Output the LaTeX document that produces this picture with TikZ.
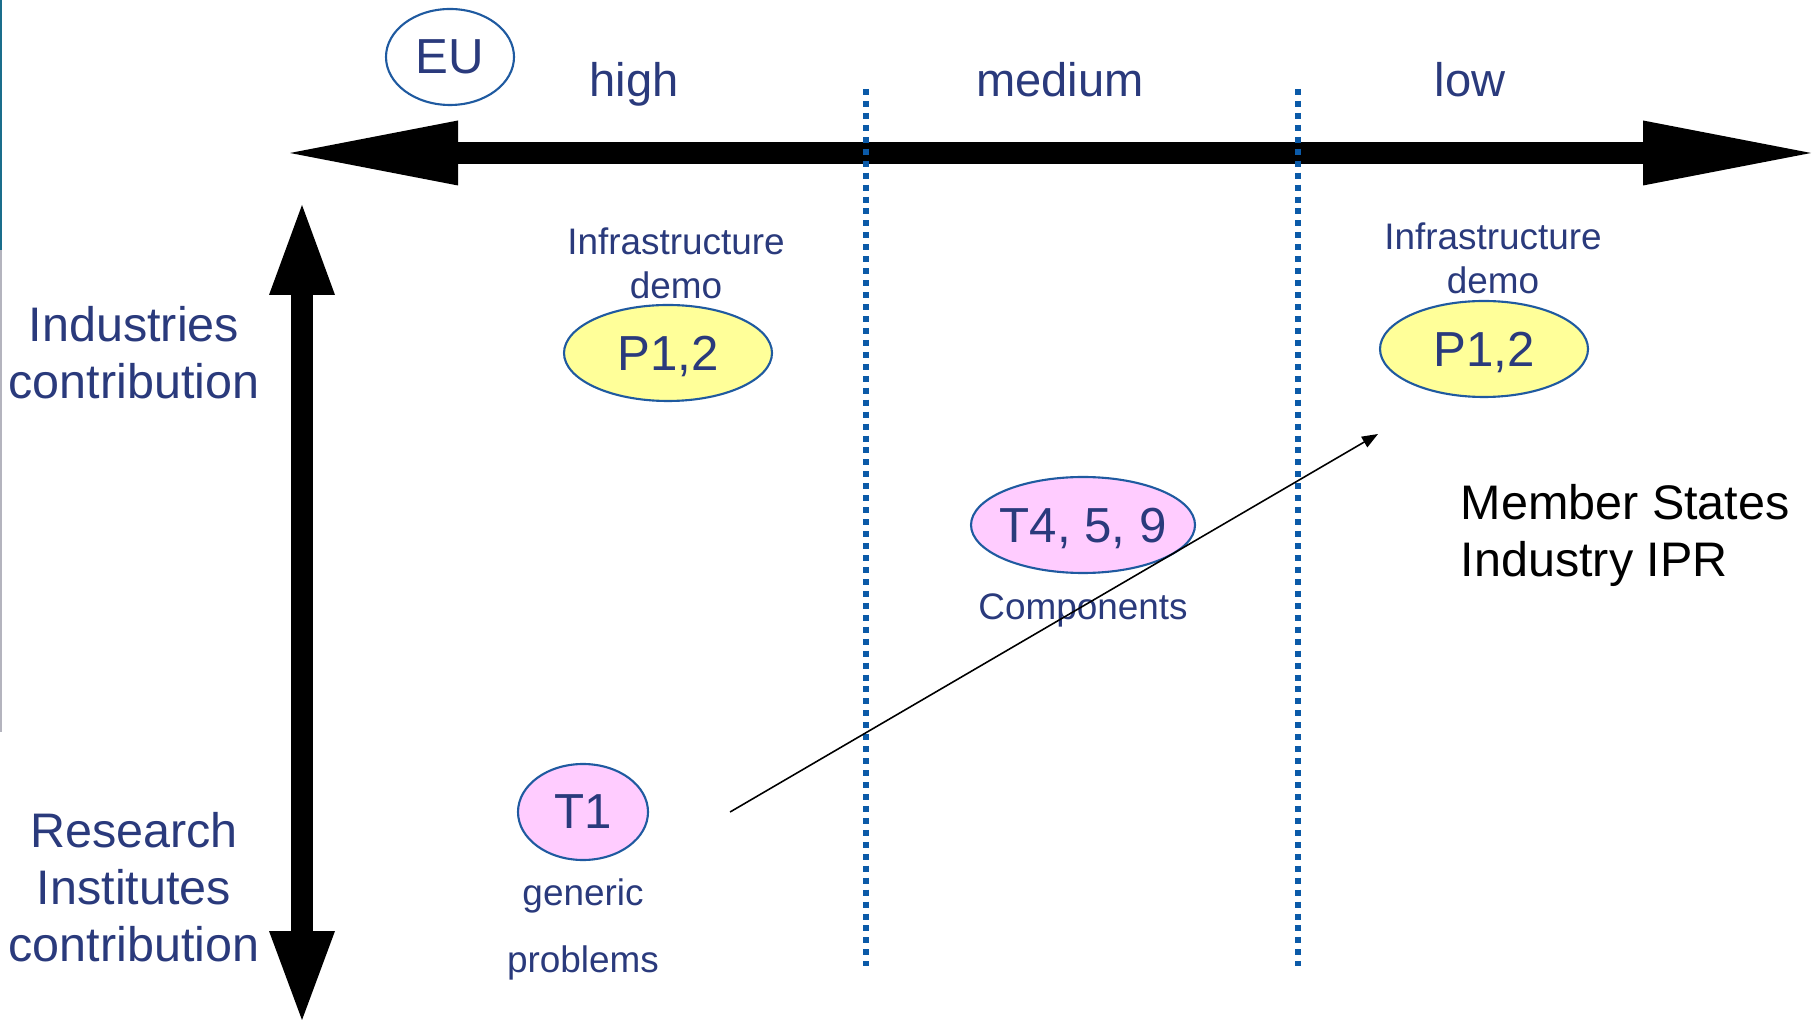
\documentclass[tikz,border=0pt]{standalone}
\usepackage{fontspec}
\setmainfont{Liberation Sans}
\usetikzlibrary{positioning, arrows.meta, shapes.geometric}

\definecolor{navy}{HTML}{2A3A7C}
\definecolor{rim}{HTML}{1F5AA0}
\definecolor{dotblue}{HTML}{0B5AA8}
\definecolor{paleyellow}{HTML}{FFFF99}
\definecolor{palepink}{HTML}{FFCCFF}
\definecolor{edgeteal}{HTML}{1A6E8C}
\definecolor{edgegray}{HTML}{B4B4BE}

\begin{document}
\begin{tikzpicture}[
    level/.style={font=\fontsize{13.4}{16}\selectfont, text=navy, anchor=base, inner sep=0pt},
    side/.style={font=\fontsize{13.8}{16.2}\selectfont, text=navy, align=center, inner sep=0pt},
    note/.style={font=\fontsize{10.5}{12.7}\selectfont, text=navy, align=center, inner sep=0pt},
    blob/.style={draw=rim, line width=0.6pt, ellipse, inner sep=0pt, text depth=0pt, minimum height=0.96cm, font=\fontsize{14}{17}\selectfont, text=navy},
    harrow/.style={line width=6.3pt, {Triangle[length=1.68cm, width=0.65cm, line width=0pt]}-{Triangle[length=1.68cm, width=0.65cm, line width=0pt]}},
    varrow/.style={line width=6.3pt, {Triangle[length=0.90cm, width=0.66cm, line width=0pt]}-{Triangle[length=0.89cm, width=0.66cm, line width=0pt]}},
    divider/.style={draw=dotblue, line width=1.7pt, dash pattern=on 1.7pt off 1.7pt},
    link/.style={-{Triangle[length=1.6mm, width=1.2mm]}, line width=0.45pt}
]
    \useasboundingbox (0,0) rectangle (18.14,-10.20);

    % slide edge
    \draw[edgeteal, line width=0.6pt] (0.01,0) -- (0.01,-2.50);
    \draw[edgegray, line width=0.6pt] (0.01,-2.50) -- (0.01,-7.32);

    % Axes
    \coordinate (hleft) at (2.90,-1.53);
    \coordinate (hright) at (18.11,-1.53);
    \coordinate (vtop) at (3.02,-2.05);
    \coordinate (vbot) at (3.02,-10.20);
    \draw[harrow] (hleft) -- (hright);
    \draw[varrow] (vtop) -- (vbot);

    % Dividers
    \coordinate (divAtop) at (8.66,-0.89);
    \coordinate (divAbot) at (8.66,-9.66);
    \coordinate (divBtop) at (12.98,-0.89);
    \coordinate (divBbot) at (12.98,-9.66);
    \draw[divider] (divAtop) -- (divAbot);
    \draw[divider] (divBtop) -- (divBbot);

    % Header
    \node[blob, minimum width=1.28cm] (eu) at (4.50,-0.57) {EU};
    \node[level] (high) at (6.34,-0.97) {high};
    \node[level] (medium) at (10.60,-0.97) {medium};
    \node[level] (low) at (14.70,-0.97) {low};

    % Side labels
    \node[side] (industry) at (1.34,-3.53) {Industries\\contribution};
    \node[side] (research) at (1.34,-8.87) {Research\\Institutes\\contribution};

    % Projects and topics
    \node[blob, fill=paleyellow, minimum width=2.08cm] (p12l) at (6.68,-3.53) {P1,2};
    \node[note, above=0.04cm of p12l, xshift=0.08cm] (infraL) {Infrastructure\\demo};
    \node[blob, fill=paleyellow, minimum width=2.08cm] (p12r) at (14.84,-3.49) {P1,2};
    \node[note, above=0.05cm of p12r, xshift=0.09cm] (infraR) {Infrastructure\\demo};

    \node[blob, fill=palepink, minimum width=2.24cm, inner xsep=-0.1cm] (t459) at (10.83,-5.25) {T4, 5, 9};
    \node[note, below=0.19cm of t459] (comp) {Components};

    \node[blob, fill=palepink, minimum width=1.30cm] (t1) at (5.83,-8.12) {T1};
    \node[note, font=\fontsize{10.5}{19}\selectfont, below=0.17cm of t1] (generic) {generic\\problems};

    \node[font=\fontsize{13.8}{16.2}\selectfont, align=left, anchor=west, inner sep=0pt] (member) at (14.60,-5.35) {Member States\\Industry IPR};

    % Transfer
    \draw[link] ([xshift=8.1mm]t1.east) -- ([shift={(-1.06,-0.85)}]p12r.center);
\end{tikzpicture}
\end{document}
